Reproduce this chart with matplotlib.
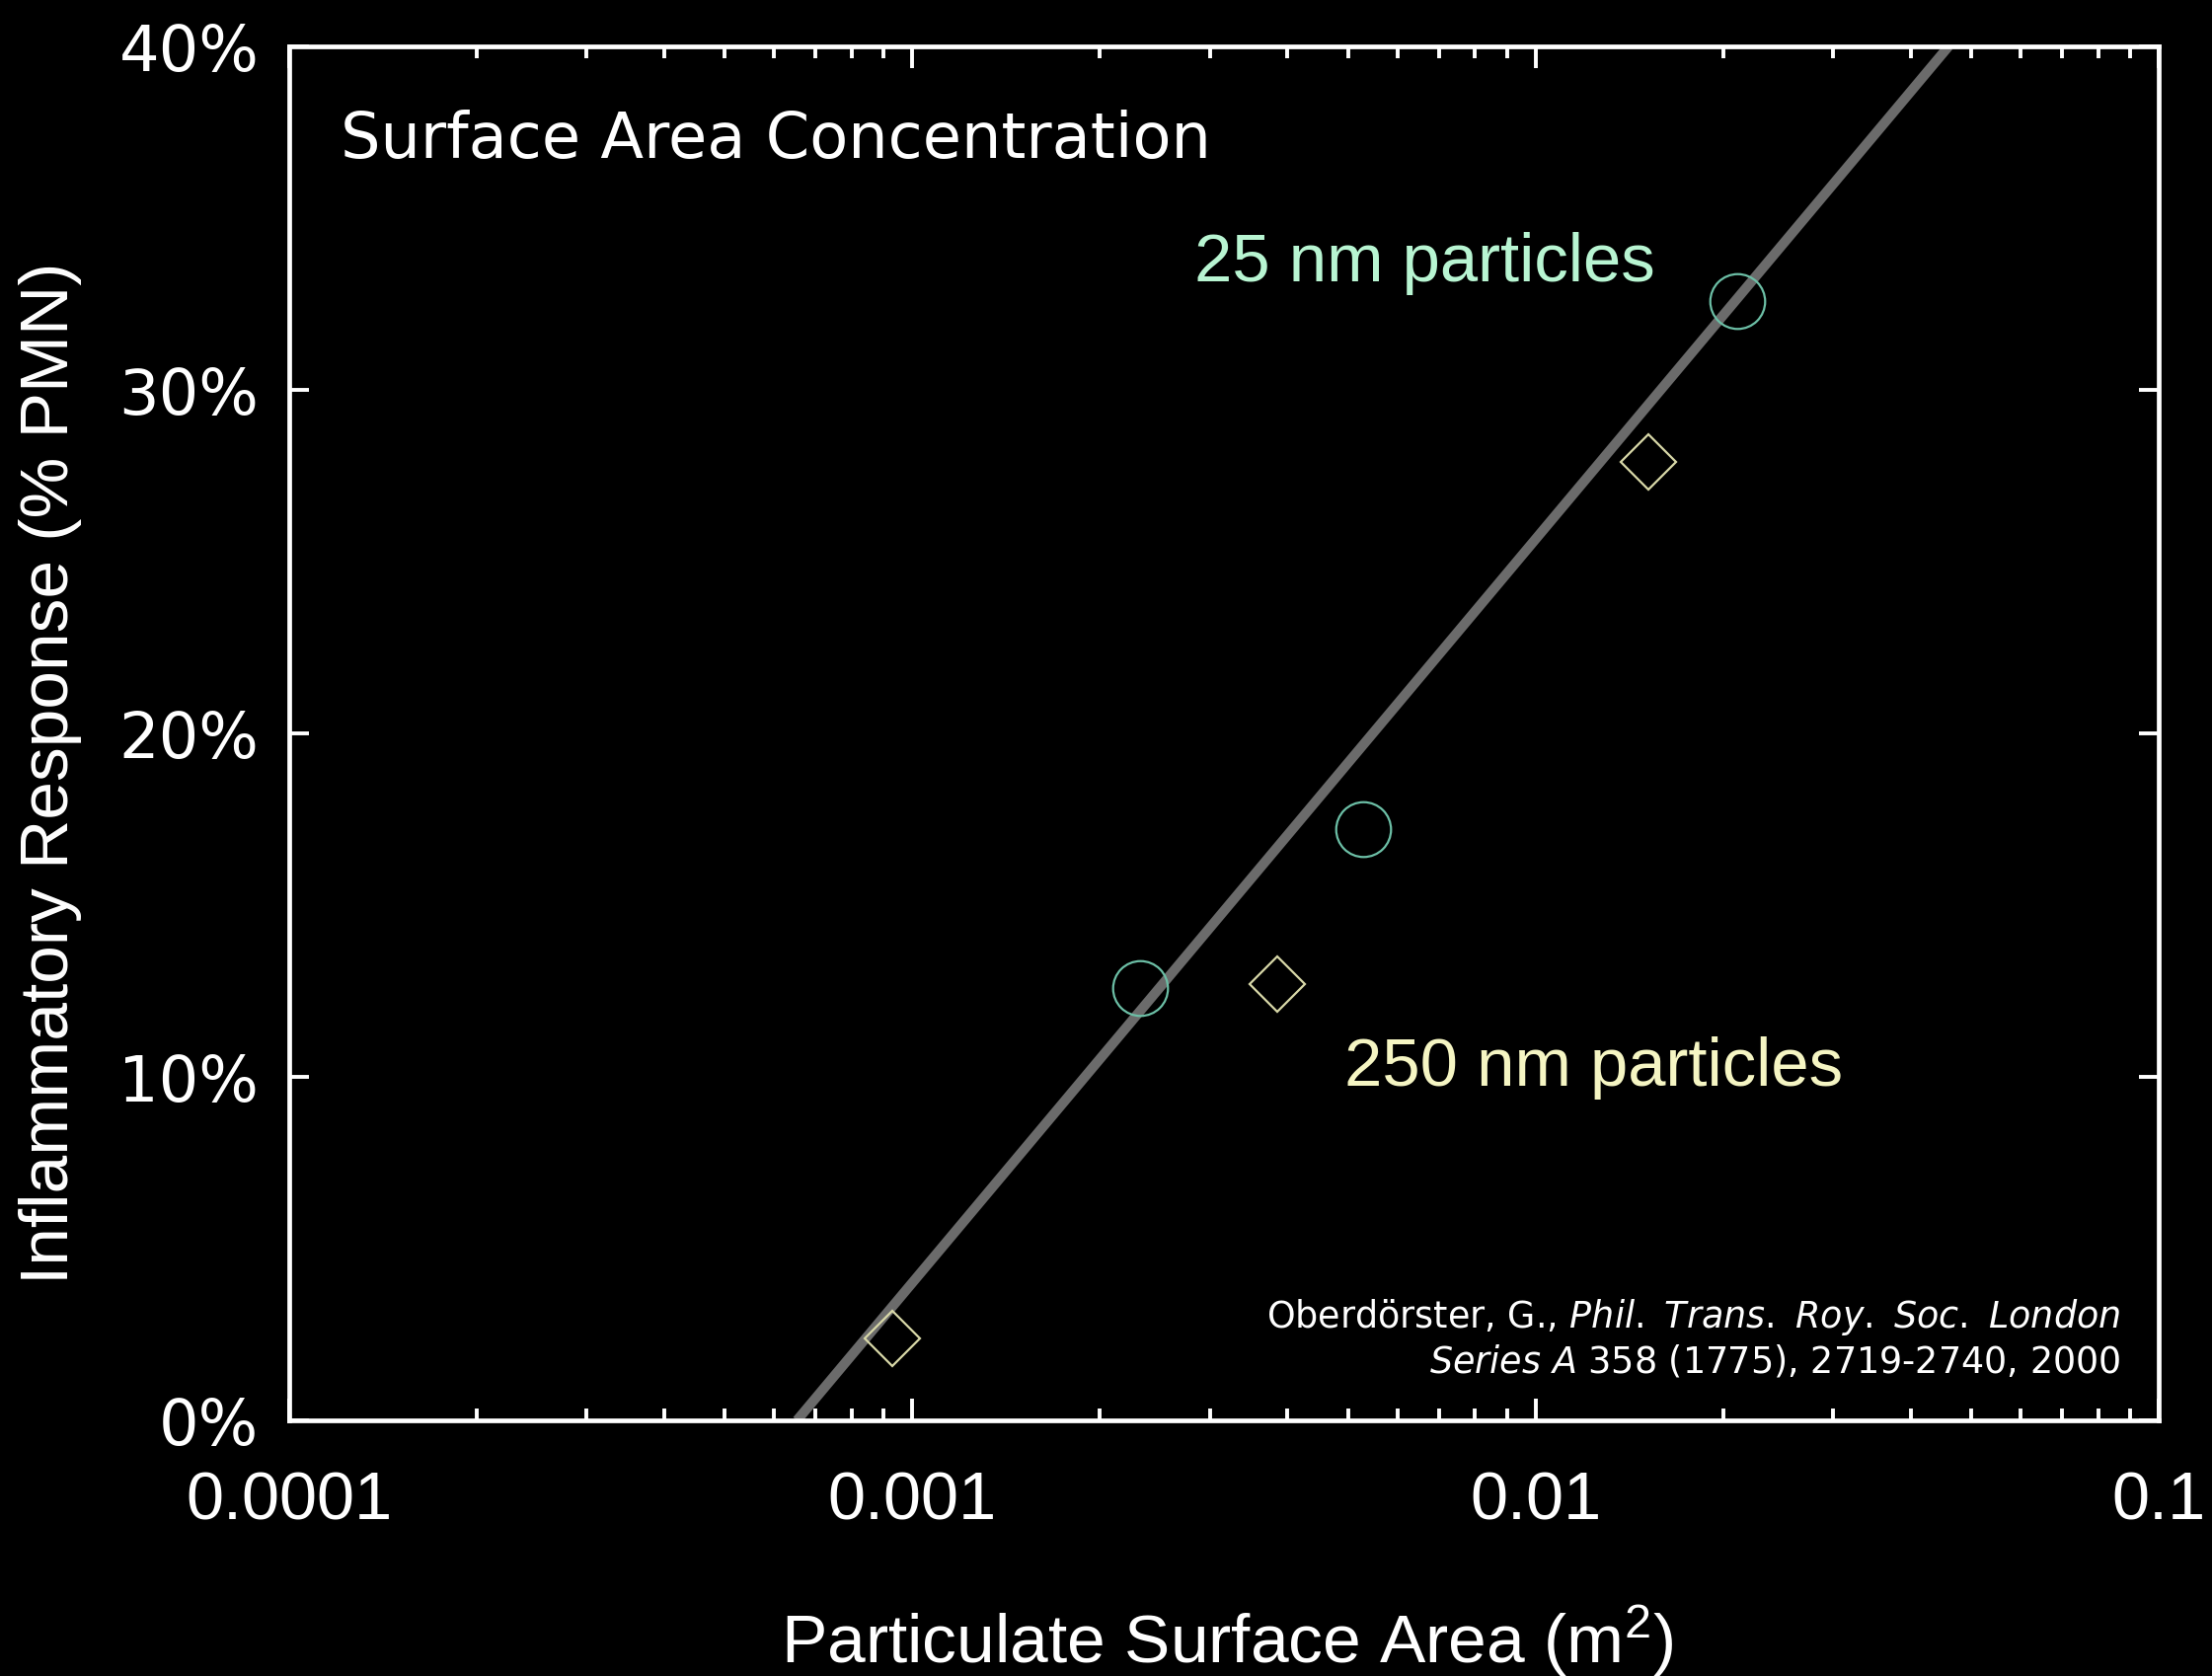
import matplotlib
matplotlib.use("Agg")
import matplotlib.pyplot as plt
from matplotlib.ticker import FixedLocator, LogLocator, NullFormatter

# 25 nm particles (circles)
nm25_area = [0.00232, 0.00528, 0.0211]
nm25_pmn = [12.6, 17.2, 32.6]

# 250 nm particles (diamonds)
nm250_area = [0.000929, 0.00385, 0.0152]
nm250_pmn = [2.4, 12.7, 27.9]

# regression line end points
fit_area = [0.000653, 0.0460]
fit_pmn = [0.0, 40.0]

x_ticks = [0.0001, 0.001, 0.01, 0.1]
x_labels = ["0.0001", "0.001", "0.01", "0.1"]
y_ticks = [0, 10, 20, 30, 40]
y_labels = ["0%", "10%", "20%", "30%", "40%"]

ARIAL = "Liberation Sans"
VERDANA = "DejaVu Sans"

plt.rcParams["mathtext.fontset"] = "custom"
plt.rcParams["mathtext.rm"] = ARIAL
plt.rcParams["mathtext.it"] = ARIAL + ":italic"

fig = plt.figure(figsize=(11.205, 8.49), dpi=200, facecolor="black")
ax = fig.add_axes([0.1307, 0.1525, 0.8452, 0.8198], facecolor="black")

ax.plot(fit_area, fit_pmn, color="#6b6b6b", linewidth=3.6, solid_capstyle="butt", zorder=2)
ax.plot(nm25_area, nm25_pmn, linestyle="none", marker="o", markersize=20,
        markerfacecolor="none", markeredgecolor="#6cbfa6", markeredgewidth=0.8, zorder=3)
ax.plot(nm250_area, nm250_pmn, linestyle="none", marker="D", markersize=14.2,
        markerfacecolor="none", markeredgecolor="#d8d8a8", markeredgewidth=0.8, zorder=3)

ax.set_xscale("log")
ax.set_xlim(0.0001, 0.1)
ax.set_ylim(0, 40)

ax.xaxis.set_major_locator(FixedLocator(x_ticks))
ax.set_xticklabels(x_labels, fontfamily=ARIAL, fontsize=24.7, color="white")
ax.xaxis.set_minor_locator(LogLocator(base=10, subs=range(2, 10)))
ax.xaxis.set_minor_formatter(NullFormatter())
ax.yaxis.set_major_locator(FixedLocator(y_ticks))
ax.set_yticklabels(y_labels, fontfamily=VERDANA, fontsize=23, color="white")

for s in ax.spines.values():
    s.set_color("white")
    s.set_linewidth(1.7)
ax.tick_params(axis="x", which="major", direction="in", top=True, length=8, width=1.4,
               color="white", pad=18)
ax.tick_params(axis="x", which="minor", direction="in", top=True, length=4.3, width=1.4,
               color="white")
ax.tick_params(axis="y", which="major", direction="in", right=True, length=7.2, width=1.4,
               color="white", pad=11)

fig.text(1243 / 2241, 1 - 1685 / 1698, r"Particulate Surface Area (m$^2$)",
         fontfamily=ARIAL, fontsize=25, color="white", ha="center", va="baseline")
fig.text(51 / 2241, 1 - 783 / 1698, "Inflammatory Response (% PMN)",
         fontfamily=ARIAL, fontsize=25, color="white", rotation=90, ha="center", va="center")

ax.text(0.0275, 0.9188, "Surface Area Concentration", transform=ax.transAxes,
        fontfamily=VERDANA, fontsize=23, color="white", va="baseline")
ax.text(0.4842, 0.829, "25 nm particles", transform=ax.transAxes,
        fontfamily=ARIAL, fontsize=24.8, color="#b8f5d2", va="baseline")
ax.text(0.5644, 0.2435, "250 nm particles", transform=ax.transAxes,
        fontfamily=ARIAL, fontsize=24.8, color="#f5f5c3", va="baseline")

ax.text(0.9794, 0.0675, r"Oberdörster, G., $\mathit{Phil.\ Trans.\ Roy.\ Soc.\ London}$",
        transform=ax.transAxes, fontfamily=VERDANA, math_fontfamily="dejavusans",
        fontsize=13.15, color="white", ha="right", va="baseline")
ax.text(0.9794, 0.0352, r"$\mathit{Series\ A}$ 358 (1775), 2719-2740, 2000",
        transform=ax.transAxes, fontfamily=VERDANA, math_fontfamily="dejavusans",
        fontsize=13.15, color="white", ha="right", va="baseline")

fig.savefig("out.png", dpi=200, facecolor="black")
